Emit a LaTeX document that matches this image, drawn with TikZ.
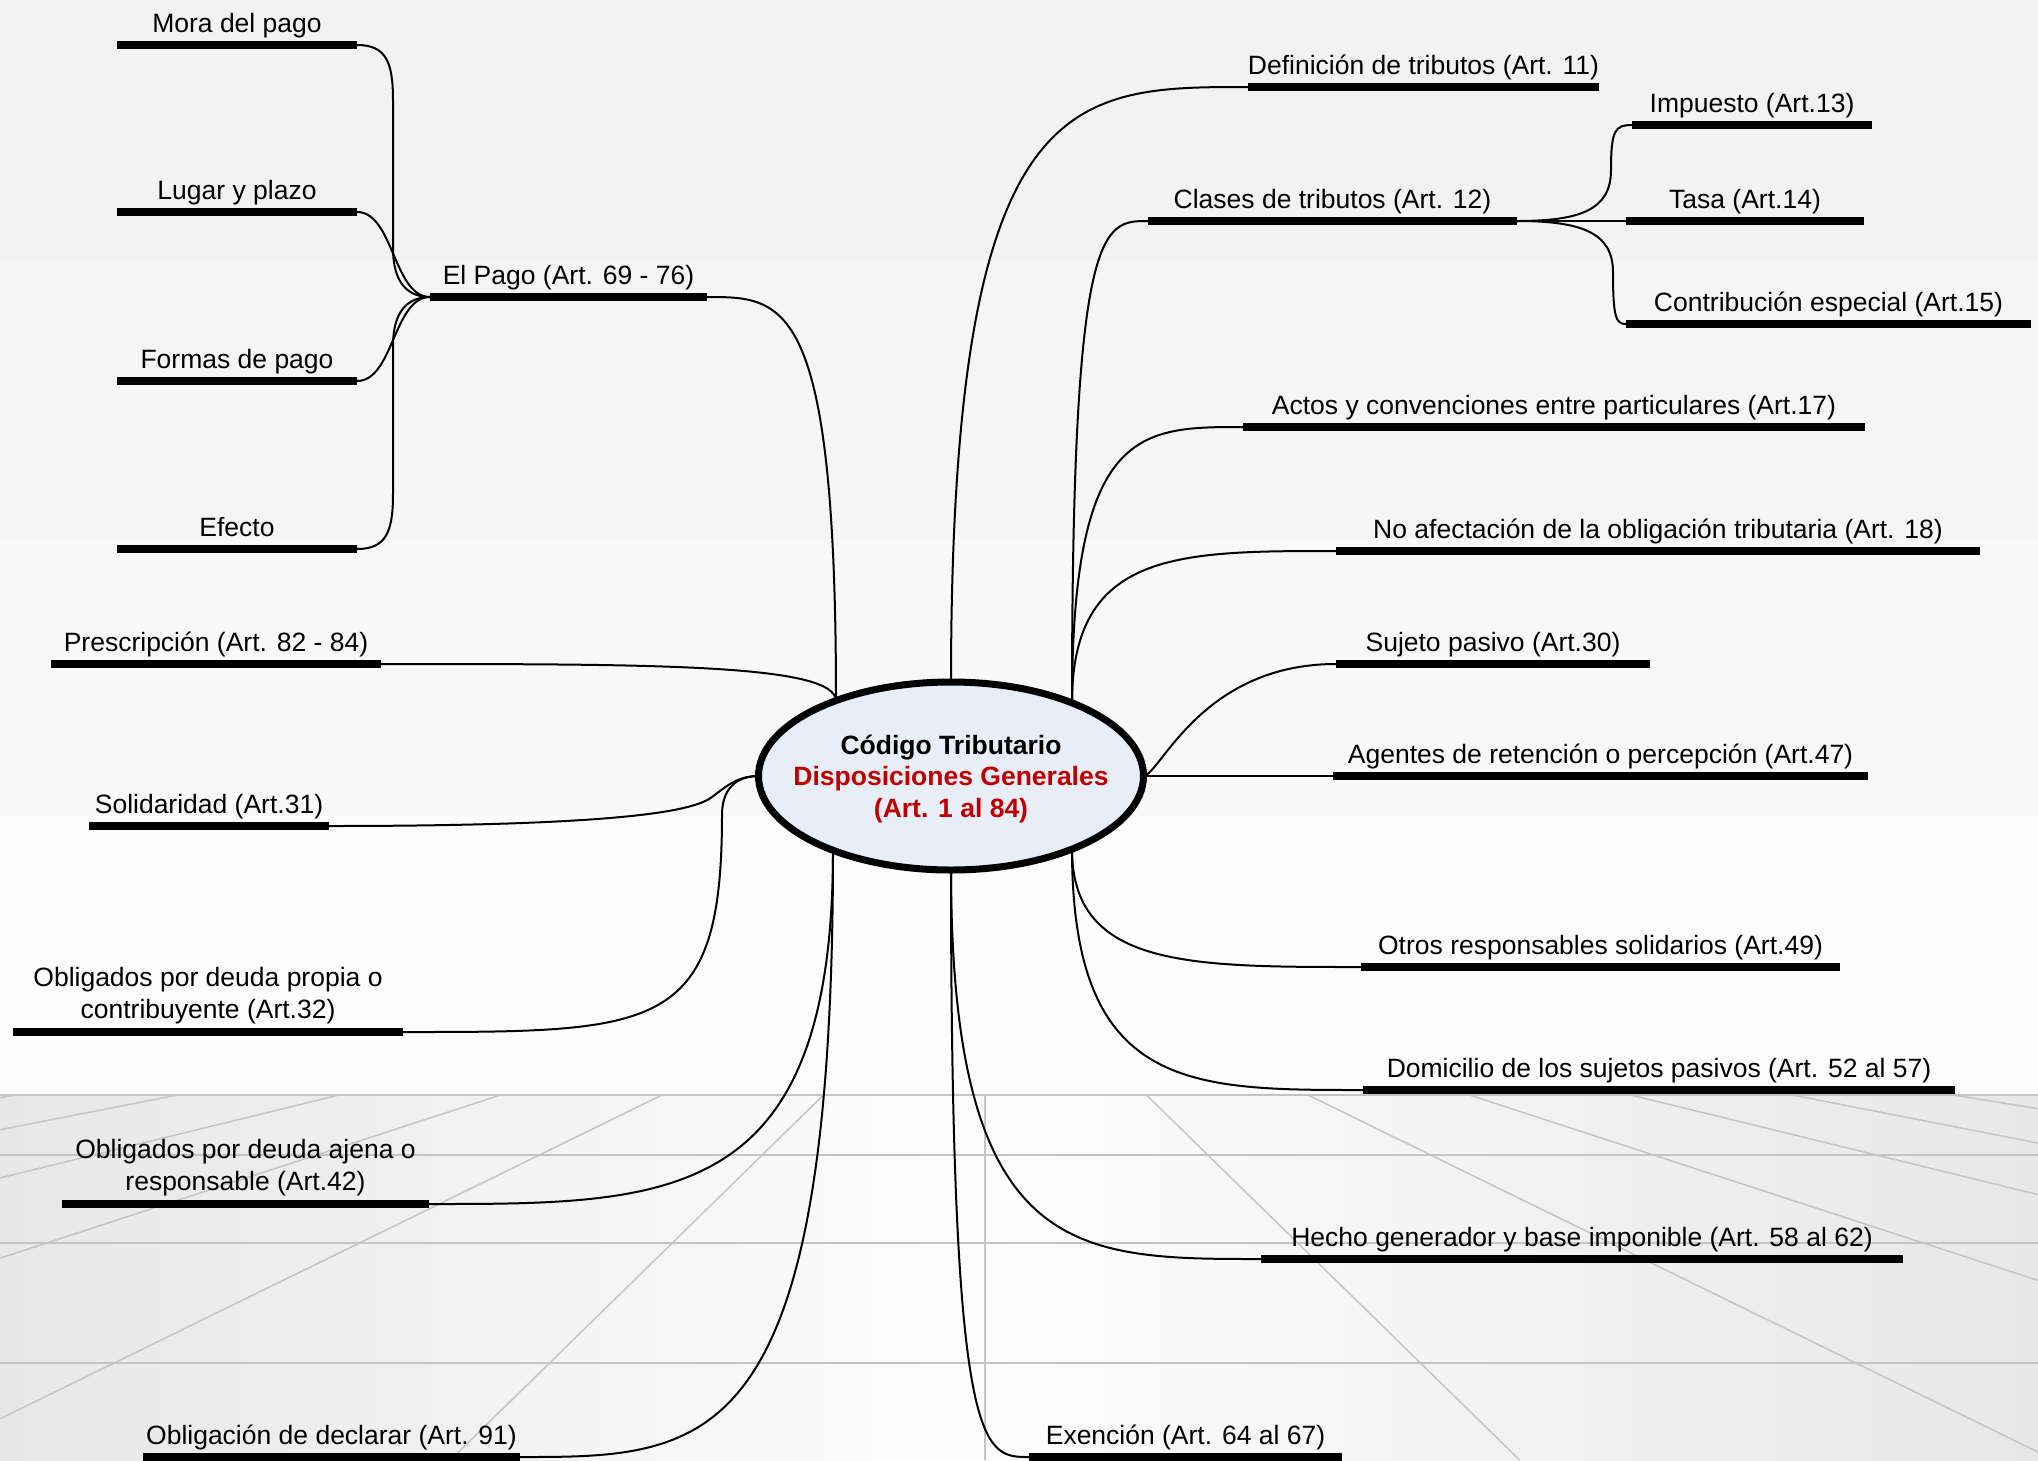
\documentclass[tikz,border=0pt]{standalone}
\usepackage{fontspec}
\setmainfont{Liberation Sans}
\usetikzlibrary{shapes.geometric,calc}
\pgfdeclarelayer{back}
\pgfdeclarelayer{links}
\pgfsetlayers{back,links,main}
\definecolor{bandA}{HTML}{F2F2F2}
\definecolor{bandB}{HTML}{F5F5F5}
\definecolor{bandC}{HTML}{F8F8F8}
\definecolor{bandD}{HTML}{FCFCFC}
\definecolor{floorEdge}{HTML}{E7E7E7}
\definecolor{floorMid}{HTML}{FDFDFD}
\definecolor{gridline}{HTML}{C4C4C4}
\definecolor{ellfill}{HTML}{E8EEF8}
\definecolor{titlered}{HTML}{C00000}
\newcommand{\mmitem}[5]{%
  \node[barnode, minimum width={#3-#2}] (#1) at ({(#2+#3)/2},#4) {};
  \node[lbl] (#1-t) at ($(#1.center)+(0,-12.5)$) {#5};}
\newcommand{\mmitemtwo}[5]{%
  \node[barnode, minimum width={#3-#2}] (#1) at ({(#2+#3)/2},#4) {};
  \node[lbltwo] (#1-t) at ($(#1.center)+(0,-8)$) {#5};}
\newcommand{\vlink}[2]{\draw[conn] (#1) .. controls (#1 |- #2) and ($(#1 |- #2)!0.4!(#2)$) .. (#2);}
\newcommand{\hlink}[2]{\draw[conn] (#1) .. controls ($(#1)!0.5!(#2 |- #1)$) and ($(#2)!0.5!(#1 |- #2)$) .. (#2);}
\begin{document}
\begin{tikzpicture}[x=1pt,y=-1pt,
  barnode/.style={draw=none, fill=black, rectangle, inner sep=0pt, outer sep=0pt, minimum height=8pt},
  lbl/.style={inner sep=0pt, outer sep=0pt, anchor=base, font=\fontsize{26.5}{32}\selectfont},
  lbltwo/.style={inner sep=0pt, outer sep=0pt, anchor=south, align=center, font=\fontsize{26.5}{32}\selectfont},
  conn/.style={draw=black, line width=2pt},
  floorline/.style={draw=gridline, line width=2pt},
  floordiag/.style={draw=gridline, line width=1.5pt},
  centre/.style={ellipse, draw=black, line width=7pt, fill=ellfill, minimum width=385pt, minimum height=188pt, inner sep=0pt},
  titletext/.style={align=center, inner sep=0pt, font=\bfseries\fontsize{26.5}{31.7}\selectfont}
]
\useasboundingbox (0,0) rectangle (2038,1460);

\begin{pgfonlayer}{back}
\fill[bandA] (0,0) rectangle (2038,261);
\fill[bandB] (0,261) rectangle (2038,539);
\fill[bandC] (0,539) rectangle (2038,816);
\fill[bandD] (0,816) rectangle (2038,1094);
\shade[left color=floorEdge, right color=floorMid] (0,1094) rectangle (985,1460);
\shade[left color=floorMid, right color=floorEdge] (985,1094) rectangle (2038,1460);
\begin{scope}
\clip (0,1094) rectangle (2038,1460);
\foreach \k in {-12,...,-1,1,2,...,12} {
  \draw[floordiag] ({985+161.5*\k},1095) -- ({985+534.6*\k},1460);
}
\foreach \yy in {1095,1155,1243,1363} {
  \draw[floorline] (0,\yy) -- (2038,\yy);
}
\draw[floorline] (985,1094) -- (985,1460);
\end{scope}
\end{pgfonlayer}

% central topic
\node[centre] (c) at (951,776) {};
\node[titletext] (ctitle) at (951,779) {Código Tributario\\\textcolor{titlered}{Disposiciones Generales}\\\textcolor{titlered}{(Art. 1 al 84)}};
\coordinate (ctl) at ($(c.center)+(-115,-75)$);
\coordinate (ct)  at ($(c.center)+(0,-92)$);
\coordinate (ctr) at ($(c.center)+(121,-73)$);
\coordinate (cbl) at ($(c.center)+(-118,74)$);
\coordinate (cb)  at ($(c.center)+(0,92)$);
\coordinate (cbr) at ($(c.center)+(121,73)$);
\coordinate (cw)  at ($(c.center)+(-192,0)$);
\coordinate (ce)  at ($(c.center)+(192,0)$);

% topics
\mmitem{mora}{117}{357}{45}{Mora del pago}
\mmitem{lugar}{117}{357}{212}{Lugar y plazo}
\mmitem{formas}{117}{357}{381}{Formas de pago}
\mmitem{efecto}{117}{357}{549}{Efecto}
\mmitem{pago}{430}{707}{297}{El Pago (Art. 69 - 76)}
\mmitem{presc}{51}{381}{664}{Prescripción (Art. 82 - 84)}
\mmitem{solid}{89}{329}{826}{Solidaridad (Art.31)}
\mmitemtwo{propia}{13}{403}{1032}{Obligados por deuda propia o\\contribuyente (Art.32)}
\mmitemtwo{ajena}{62}{429}{1204}{Obligados por deuda ajena o\\responsable (Art.42)}
\mmitem{declarar}{143}{520}{1457}{Obligación de declarar (Art. 91)}
\mmitem{exencion}{1029}{1342}{1457}{Exención (Art. 64 al 67)}
\mmitem{hecho}{1261}{1903}{1259}{Hecho generador y base imponible (Art. 58 al 62)}
\mmitem{domicilio}{1363}{1955}{1090}{Domicilio de los sujetos pasivos (Art. 52 al 57)}
\mmitem{otros}{1361}{1840}{967}{Otros responsables solidarios (Art.49)}
\mmitem{agentes}{1333}{1868}{776}{Agentes de retención o percepción (Art.47)}
\mmitem{sujeto}{1336}{1650}{664}{Sujeto pasivo (Art.30)}
\mmitem{noafect}{1336}{1980}{551}{No afectación de la obligación tributaria (Art. 18)}
\mmitem{actos}{1243}{1865}{427}{Actos y convenciones entre particulares (Art.17)}
\mmitem{clases}{1148}{1517}{221}{Clases de tributos (Art. 12)}
\mmitem{defin}{1248}{1599}{87}{Definición de tributos (Art. 11)}
\mmitem{impuesto}{1632}{1872}{125}{Impuesto (Art.13)}
\mmitem{tasa}{1626}{1864}{221}{Tasa (Art.14)}
\mmitem{contrib}{1626}{2031}{324}{Contribución especial (Art.15)}

\begin{pgfonlayer}{links}
\vlink{ctl}{pago.east}
\vlink{ctl}{presc.east}
\vlink{ct}{defin.west}
\vlink{ctr}{clases.west}
\vlink{ctr}{actos.west}
\vlink{ctr}{noafect.west}
\vlink{cbr}{otros.west}
\vlink{cbr}{domicilio.west}
\vlink{cb}{hecho.west}
\vlink{cb}{exencion.west}
\vlink{cbl}{ajena.east}
\vlink{cbl}{declarar.east}
\draw[conn] (ce) .. controls ($(ce)+(17,0)$) and ($(sujeto.west)+(-136,0)$) .. (sujeto.west);
\draw[conn] (ce) -- (agentes.west);
\draw[conn] (cw) .. controls (738,776) and (728,785) .. (712,797) .. controls (696,809) and (640,826) .. (solid.east);
\draw[conn] (cw) .. controls (735,776) and (722,790) .. (722,815) .. controls (722,1032) and (658,1032) .. (propia.east);
\draw[conn] (mora.east) .. controls (386,45) and (393,62) .. (393,100) -- (393,248) .. controls (393,282) and (407,297) .. (pago.west);
\hlink{pago.west}{lugar.east}
\hlink{pago.west}{formas.east}
\draw[conn] (efecto.east) .. controls (386,549) and (393,532) .. (393,494) -- (393,346) .. controls (393,312) and (407,297) .. (pago.west);
\draw[conn] (clases.east) .. controls (1580,221) and (1611,210) .. (1611,170) .. controls (1611,130) and (1615,125) .. (impuesto.west);
\draw[conn] (clases.east) -- (tasa.west);
\draw[conn] (clases.east) .. controls (1580,221) and (1613,232) .. (1613,272) .. controls (1613,318) and (1616,324) .. (contrib.west);
\end{pgfonlayer}
\end{tikzpicture}
\end{document}
